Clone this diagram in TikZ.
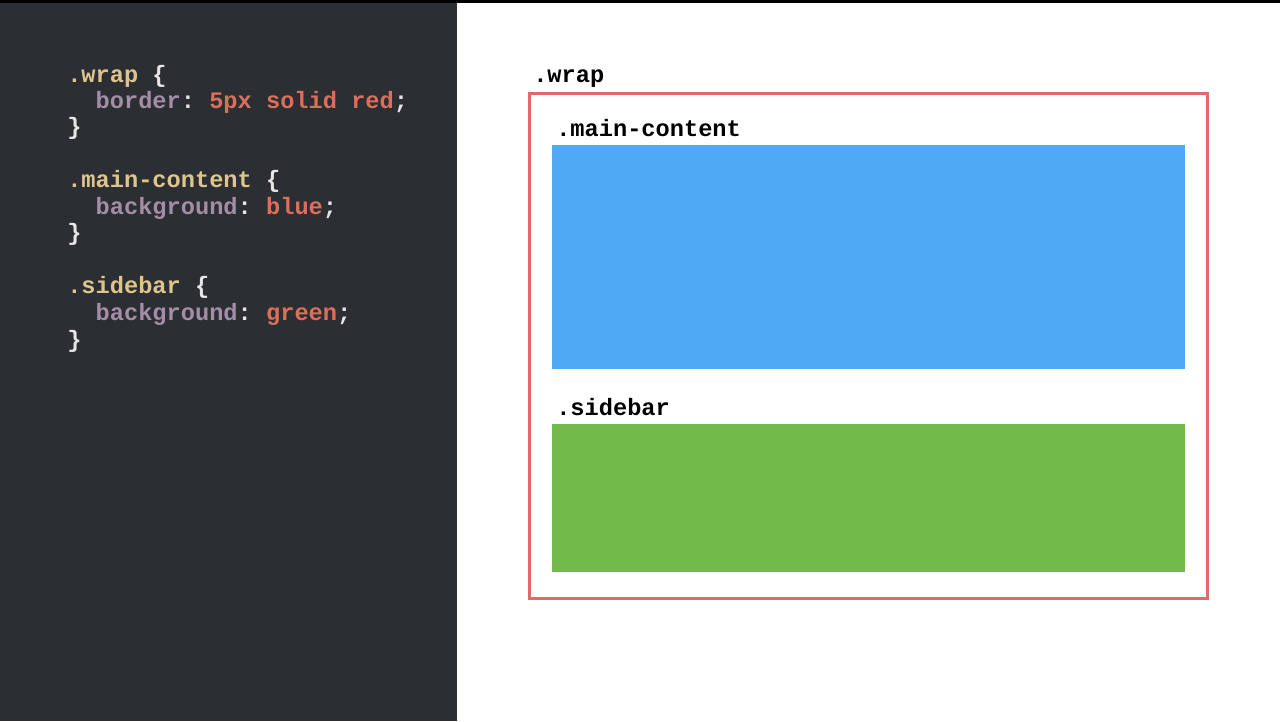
\documentclass[tikz,border=0pt]{standalone}
\usepackage{fontspec}
\setmonofont{Liberation Mono}
\usepackage{tikz}
\usetikzlibrary{positioning}

\definecolor{panelbg}{HTML}{2B2E33}
\definecolor{selcol}{HTML}{DDC58C}
\definecolor{propcol}{HTML}{A48DA6}
\definecolor{valcol}{HTML}{DA705A}
\definecolor{puncol}{HTML}{E6E6E6}
\definecolor{wrapred}{HTML}{E06A68}
\definecolor{mainblue}{HTML}{4FA9F5}
\definecolor{sidegreen}{HTML}{72BB4A}

\begin{document}
\begin{tikzpicture}[x=0.75pt, y=-0.75pt,
    code/.style={anchor=base west, inner sep=0pt, text=puncol,
        font=\ttfamily\bfseries\fontsize{17.75}{20}\selectfont},
    boxlabel/.style={anchor=base west, inner sep=0pt, text=black,
        font=\ttfamily\bfseries\fontsize{17.75}{20}\selectfont},
    block/.style={anchor=north west, inner sep=0pt, outer sep=0pt}]
    % page and panels
    \useasboundingbox (0,0) rectangle (1280,721);
    \fill[white] (0,0) rectangle (1280,721);
    \fill[panelbg] (0,0) rectangle (457,721);
    \fill[black] (0,0) rectangle (1280,3);

    % css source
    \node[code] (l1) at (67,82)  {{\color{selcol}.wrap} \{};
    \node[code] (l2) at (67,108) {\ \ {\color{propcol}border}: {\color{valcol}5px solid red};};
    \node[code] (l3) at (67,134) {\}};
    \node[code] (l4) at (67,187) {{\color{selcol}.main-content} \{};
    \node[code] (l5) at (67,214) {\ \ {\color{propcol}background}: {\color{valcol}blue};};
    \node[code] (l6) at (67,240) {\}};
    \node[code] (l7) at (67,293) {{\color{selcol}.sidebar} \{};
    \node[code] (l8) at (67,320) {\ \ {\color{propcol}background}: {\color{valcol}green};};
    \node[code] (l9) at (67,347) {\}};

    % rendered layout
    \node[block, draw=wrapred, line width=2.4pt, minimum width=678*0.75pt,
        minimum height=505*0.75pt] (wrap) at (529.5,93.5) {};
    \node[block, fill=mainblue, minimum width=633*0.75pt,
        minimum height=224*0.75pt] (main) at (552,145) {};
    \node[block, fill=sidegreen, minimum width=633*0.75pt,
        minimum height=148*0.75pt] (side) at (552,424) {};

    \node[boxlabel] (wraplbl) at (533,82)  {.wrap};
    \node[boxlabel] (mainlbl) at (556,136) {.main-content};
    \node[boxlabel] (sidelbl) at (556,415) {.sidebar};
\end{tikzpicture}
\end{document}
